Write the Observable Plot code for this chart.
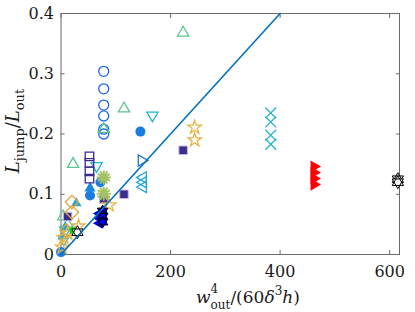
<!DOCTYPE html>
<html>
<head>
<meta charset="utf-8">
<script src="https://cdn.jsdelivr.net/npm/d3@7"></script>
<script src="https://cdn.jsdelivr.net/npm/@observablehq/plot@0.6"></script>
<style>
  html, body { margin: 0; padding: 0; background: white; }
  #chart svg, #chart svg text, #chart svg tspan { font-family: "DejaVu Serif", "Liberation Serif", serif !important; }
</style>
</head>
<body>
<div id="chart"></div>
<script>
// ---- data (x = w_out^4/(60 δ^3 h), y = L_jump/L_out) ----
const openCircles    = [[78,0.304],[78,0.275],[78,0.248],[78,0.23],[78,0.208],[78,0.2]];
const greenTriangles = [[223,0.368],[115,0.242],[22,0.15],[78,0.208],[4,0.063],[12,0.05]];
const cyanDown       = [[167,0.231],[65,0.147],[8,0.04],[5,0.025]];
const filledCircles  = [[145,0.204],[72,0.12],[53,0.098],[0,0.004]];
const blueFilledUp   = [[53,0.11]];
const cyanFilledUp   = [[28,0.085],[8,0.045],[3,0.03]];
const openSquares    = [[52,0.163],[52,0.152],[52,0.138],[52,0.126]];
const filledSquares  = [[223,0.173],[115,0.1],[78,0.092],[12,0.063]];
const asterisks      = [[78,0.128],[78,0.101]];
const stars          = [[244,0.211],[244,0.19],[88,0.082],[32,0.047],[12,0.035],[5,0.028],[2,0.012]];
const diamonds       = [[20,0.087],[20,0.07],[10,0.04]];
const leftTriangles  = [[150,0.128],[150,0.12],[150,0.112]];
const rightTriangles = [[147,0.156]];
const crosses        = [[383,0.235],[383,0.22],[383,0.198],[383,0.183]];
const redRight       = [[462,0.146],[462,0.136],[462,0.126],[462,0.116]];
const blueLeft       = [[70,0.068],[70,0.06],[70,0.052]];
const blueHexagrams  = [[76,0.072],[76,0.063],[76,0.054]];
const blackHexagrams = [[615,0.125],[615,0.12],[30,0.037]];
const greenBright    = [[22,0.04]];
const fitX = [0, 400];
const fitY = [0, 0.4];
const xTicks = [0, 200, 400, 600];
const yTicks = [0, 0.1, 0.2, 0.3, 0.4];

// ---- custom marker shapes ----
function polygon(n, rot) {
  return {draw(ctx, size) {
    const r = Math.sqrt(size / Math.PI);
    for (let i = 0; i < n; i++) {
      const a = rot + i * 2 * Math.PI / n;
      const x = r * Math.cos(a), y = r * Math.sin(a);
      if (i) ctx.lineTo(x, y); else ctx.moveTo(x, y);
    }
    ctx.closePath();
  }};
}
const triUp = polygon(3, -Math.PI / 2);
const triDown = polygon(3, Math.PI / 2);
const triLeft = polygon(3, Math.PI);
const triRight = polygon(3, 0);
const hexagram = {draw(ctx, size) { triUp.draw(ctx, size); triDown.draw(ctx, size); }};
const burst = {draw(ctx, size) {
  const r = Math.sqrt(size / Math.PI);
  for (let i = 0; i < 6; i++) {
    const a = i * Math.PI / 6;
    ctx.moveTo(r * Math.cos(a), r * Math.sin(a));
    ctx.lineTo(-r * Math.cos(a), -r * Math.sin(a));
  }
}};

const px = d => d[0], py = d => d[1];
const openDot = (data, symbol, color, r, sw = 1.3) =>
  Plot.dot(data, {x: px, y: py, symbol, r, stroke: color, fill: "none", strokeWidth: sw});
const fillDot = (data, symbol, color, r, stroke = "none") =>
  Plot.dot(data, {x: px, y: py, symbol, r, fill: color, stroke, strokeWidth: 1});

const axisColor = "#6a6a6a";
const fitLine = fitX.map((x, i) => [x, fitY[i]]);

const plot = Plot.plot({
  width: 415,
  height: 312,
  marginLeft: 60.5,
  marginRight: 16,
  marginTop: 13,
  marginBottom: 58,
  x: {domain: [0, 618]},
  y: {domain: [0, 0.4]},
  style: {fontFamily: "DejaVu Serif, serif", fontSize: "16px", color: "#1a1a1a", background: "white", overflow: "visible"},
  marks: [
    Plot.frame({stroke: axisColor}),
    Plot.axisX(xTicks, {anchor: "bottom", tickSize: -4, tickFormat: () => "", stroke: axisColor, label: null}),
    Plot.axisX(xTicks, {anchor: "top", tickSize: -4, tickFormat: () => "", stroke: axisColor, label: null}),
    Plot.axisX(xTicks, {anchor: "bottom", tickSize: 0, tickPadding: 11, tickFormat: d => String(d), label: null}),
    Plot.axisY(yTicks, {anchor: "left", tickSize: -4, tickFormat: () => "", stroke: axisColor, label: null}),
    Plot.axisY(yTicks, {anchor: "right", tickSize: -4, tickFormat: () => "", stroke: axisColor, label: null}),
    Plot.axisY(yTicks, {anchor: "left", tickSize: 0, tickPadding: 7, tickFormat: d => String(d), label: null}),

    openDot(openCircles, "circle", "#1f64e6", 5),
    openDot(greenTriangles, triUp, "#5cc690", 6.5),
    openDot(cyanDown, triDown, "#1fb8c8", 6.5),
    fillDot(filledCircles, "circle", "#1a7be0", 5),
    fillDot(blueFilledUp, triUp, "#1a88e0", 6.5),
    fillDot(cyanFilledUp, triUp, "#22a8d8", 6),
    openDot(openSquares, "square", "#3a2d8f", 4.8),
    fillDot(filledSquares, "square", "#3a2d8f", 4.8, "#c8b8e0"),
    openDot(asterisks, burst, "#a3c263", 7, 2),
    openDot(stars, "star", "#e8b446", 4.2),
    openDot(diamonds, "diamond2", "#e0aa38", 6),
    openDot(leftTriangles, triLeft, "#22a5d8", 6.5),
    openDot(rightTriangles, triRight, "#1e73d4", 6.5),
    openDot(crosses, "times", "#22b5cc", 5),
    fillDot(redRight, triRight, "#ff0000", 7),
    fillDot(blueLeft, triLeft, "#0000ff", 6.5),
    fillDot(greenBright, "circle", "#00e000", 3.5),
    fillDot(blueHexagrams, hexagram, "#0000ff", 6, "#000"),
    fillDot(blackHexagrams, hexagram, "#ffffff", 6.5, "#000"),

    Plot.line(fitLine, {x: px, y: py, stroke: "#0072BD", strokeWidth: 1.6})
  ]
});

document.getElementById("chart").appendChild(plot);

// ---- axis titles (real text) ----
const svg = d3.select(plot);
const font = "DejaVu Serif, serif";
const xl = svg.append("text").attr("x", 196).attr("y", 303).attr("text-anchor", "start")
  .attr("font-size", 17).attr("font-family", font).attr("fill", "#1a1a1a");
xl.append("tspan").attr("font-style", "italic").text("w");
xl.append("tspan").attr("font-size", 12).attr("dy", -10).text("4");
xl.append("tspan").attr("font-size", 12).attr("dx", -7.6).attr("dy", 16).text("out");
xl.append("tspan").attr("dy", -6).text("/(60");
xl.append("tspan").attr("font-style", "italic").text("δ");
xl.append("tspan").attr("font-size", 12).attr("dy", -8).text("3");
xl.append("tspan").attr("font-style", "italic").attr("dy", 8).text("h");
xl.append("tspan").text(")");

const yl = svg.append("text").attr("transform", "translate(19,131) rotate(-90)")
  .attr("text-anchor", "middle").attr("font-size", 18).attr("font-family", font).attr("fill", "#1a1a1a");
yl.append("tspan").attr("font-style", "italic").text("L");
yl.append("tspan").attr("font-size", 13).attr("dy", 5).text("jump");
yl.append("tspan").attr("dy", -5).text("/");
yl.append("tspan").attr("font-style", "italic").text("L");
yl.append("tspan").attr("font-size", 13).attr("dy", 5).text("out");
</script>
</body>
</html>
